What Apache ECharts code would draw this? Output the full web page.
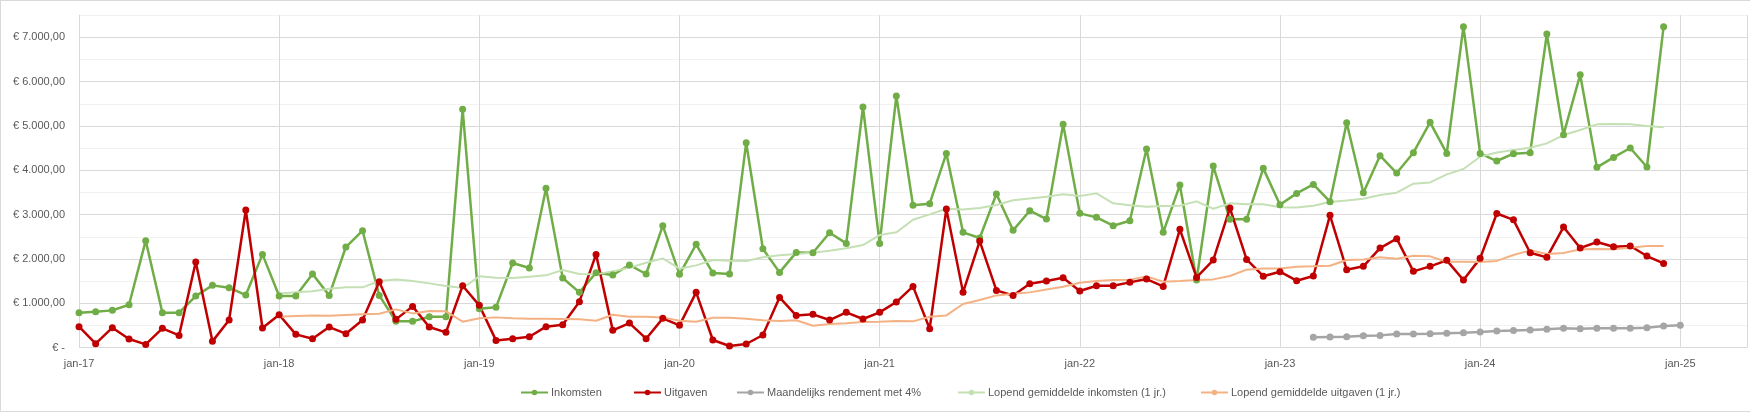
<!DOCTYPE html>
<html>
<head>
<meta charset="utf-8">
<title>Inkomsten en uitgaven</title>
<script src="https://cdn.jsdelivr.net/npm/echarts@6/dist/echarts.min.js"></script>
<style>
  html, body { margin: 0; padding: 0; background: #fff; }
  #wrap { position: relative; width: 1750px; height: 412px; }
  #chart { width: 1750px; height: 412px; }
  #frame {
    position: absolute; left: 0; top: 0; width: 1760px; height: 410px;
    border: 1px solid #d9d9d9; pointer-events: none;
  }
</style>
</head>
<body>
<div id="wrap">
  <div id="chart"></div>
  <div id="frame"></div>
</div>
<script>
// maanden vanaf jan-17 (index 0)
const yearLabels = ['jan-17', 'jan-18', 'jan-19', 'jan-20', 'jan-21', 'jan-22', 'jan-23', 'jan-24', 'jan-25'];

const inkomsten = [
  790, 812, 842, 970, 2414, 790, 790, 1165, 1406, 1353, 1188, 2105,
  1165, 1165, 1662, 1180, 2271, 2639, 1180, 594, 594, 699, 699, 5376,
  880, 910, 1910, 1797, 3594, 1571, 1248, 1692, 1639, 1865, 1662, 2752,
  1654, 2331, 1684, 1662, 4624, 2233, 1699, 2150, 2143, 2594, 2353, 5429,
  2353, 5677, 3211, 3248, 4383, 2602, 2474, 3466, 2647, 3090, 2902, 5038,
  3030, 2940, 2752, 2865, 4481, 2602, 3669, 1526, 4098, 2895, 2895, 4045,
  3226, 3481, 3684, 3293, 5075, 3496, 4331, 3940, 4398, 5083, 4383, 7241,
  4383, 4211, 4376, 4398, 7075, 4805, 6158, 4068, 4293, 4504, 4075, 7241
];

const uitgaven = [
  474, 90, 451, 195, 75, 436, 278, 1932, 143, 624, 3105, 444,
  744, 301, 203, 466, 316, 624, 1489, 639, 932, 466, 346, 1398,
  955, 165, 203, 248, 474, 519, 1038, 2105, 391, 556, 203, 662,
  504, 1248, 173, 38, 83, 286, 1135, 725, 752, 624, 797, 647,
  797, 1030, 1383, 429, 3128, 1248, 2406, 1293, 1177, 1444, 1504, 1579,
  1278, 1398, 1398, 1474, 1549, 1383, 2669, 1586, 1977, 3150, 1992, 1613,
  1714, 1511, 1617, 2985, 1759, 1835, 2248, 2459, 1722, 1835, 1970, 1526,
  2015, 3027, 2884, 2143, 2038, 2722, 2248, 2383, 2278, 2293, 2068, 1902
];

// vanaf mrt-23 (index 74)
const rendementStart = 74;
const rendement = [
  233, 241, 248, 271, 278, 308, 308, 316, 327, 338, 353, 376,
  387, 402, 414, 436, 429, 436, 436, 436, 451, 489, 504
];

// lopend gemiddelde vanaf jan-18 (index 12)
const gemStart = 12;
const gemInkomsten = [
  1225, 1248, 1271, 1331, 1361, 1361, 1504, 1541, 1504, 1451, 1391, 1346,
  1609, 1579, 1571, 1601, 1632, 1752, 1662, 1654, 1722, 1805, 1917, 2015,
  1782, 1857, 1977, 1962, 1955, 2038, 2087, 2112, 2143, 2188, 2241, 2316,
  2541, 2602, 2887, 3008, 3135, 3120, 3150, 3218, 3327, 3365, 3406, 3459,
  3421, 3481, 3256, 3211, 3180, 3195, 3203, 3301, 3135, 3256, 3237, 3237,
  3169, 3162, 3203, 3286, 3323, 3361, 3444, 3496, 3699, 3729, 3910, 4030,
  4308, 4402, 4459, 4511, 4609, 4797, 4910, 5038, 5045, 5038, 5000, 4970
];
const gemUitgaven = [
  699, 714, 729, 722, 737, 752, 767, 865, 774, 827, 820, 586,
  662, 684, 662, 654, 651, 647, 639, 609, 744, 699, 699, 684,
  609, 586, 677, 677, 654, 617, 602, 620, 496, 534, 549, 579,
  586, 602, 594, 699, 729, 985, 1075, 1180, 1215, 1248, 1312, 1376,
  1466, 1504, 1526, 1534, 1609, 1489, 1504, 1526, 1541, 1617, 1760, 1786,
  1786, 1827, 1835, 1850, 1977, 1992, 2038, 2008, 2075, 2060, 1940, 1936,
  1932, 1958, 2090, 2196, 2113, 2135, 2218, 2226, 2218, 2256, 2293, 2293
];

function pairs(values, start) {
  return values.map((v, i) => [start + i, v]);
}

function euro(v) {
  if (v === 0) return '€ -';
  return '€ ' + String(v / 1000) + '.000,00';
}

const font = 'Liberation Sans';
const textColor = '#595959';

const chart = echarts.init(document.getElementById('chart'));

const option = {
  animation: false,
  textStyle: { fontFamily: font },
  tooltip: { trigger: 'axis' },
  grid: { left: 79, top: 15.2, width: 1675, height: 332.5 },
  xAxis: {
    type: 'value',
    min: 0,
    max: 100,
    interval: 12,
    axisLine: { show: false },
    axisTick: { show: false },
    axisLabel: {
      color: textColor, fontSize: 11, fontFamily: font, margin: 11,
      formatter: v => (v % 12 === 0 ? yearLabels[v / 12] : '')
    },
    splitLine: { show: true, lineStyle: { color: '#d9d9d9', width: 1 } }
  },
  yAxis: {
    type: 'value',
    min: 0,
    max: 7500,
    interval: 500,
    axisLine: { show: true, lineStyle: { color: '#d9d9d9', width: 1 } },
    axisTick: { show: false },
    axisLabel: {
      color: textColor, fontSize: 11, fontFamily: font, margin: 14,
      formatter: v => (v % 1000 === 0 ? euro(v) : '')
    },
    splitLine: { show: true, lineStyle: { color: ['#d9d9d9', '#f2f2f2'], width: 1 } }
  },
  legend: [
    { data: ['Inkomsten'], left: 520 },
    { data: ['Uitgaven'], left: 633 },
    { data: ['Maandelijks rendement met 4%'], left: 736 },
    { data: ['Lopend gemiddelde inkomsten (1 jr.)'], left: 957 },
    { data: ['Lopend gemiddelde uitgaven (1 jr.)'], left: 1200 }
  ].map(l => Object.assign(l, {
    top: 387,
    itemWidth: 27,
    itemHeight: 7,
    itemGap: 0,
    padding: 0,
    textStyle: { color: textColor, fontSize: 11, fontFamily: font, padding: [0, 0, 0, -2] }
  })),
  series: [
    {
      name: 'Inkomsten', type: 'line', data: pairs(inkomsten, 0),
      symbol: 'circle', symbolSize: 7,
      lineStyle: { color: '#70ad47', width: 2.5 },
      itemStyle: { color: '#70ad47' }
    },
    {
      name: 'Uitgaven', type: 'line', data: pairs(uitgaven, 0),
      symbol: 'circle', symbolSize: 7,
      lineStyle: { color: '#c00000', width: 2.5 },
      itemStyle: { color: '#c00000' }
    },
    {
      name: 'Maandelijks rendement met 4%', type: 'line', data: pairs(rendement, rendementStart),
      symbol: 'circle', symbolSize: 7,
      lineStyle: { color: '#a5a5a5', width: 2.5 },
      itemStyle: { color: '#a5a5a5' }
    },
    {
      name: 'Lopend gemiddelde inkomsten (1 jr.)', type: 'line', data: pairs(gemInkomsten, gemStart),
      symbol: 'none', showSymbol: false,
      lineStyle: { color: '#c5e0b4', width: 2 },
      itemStyle: { color: '#c5e0b4' }
    },
    {
      name: 'Lopend gemiddelde uitgaven (1 jr.)', type: 'line', data: pairs(gemUitgaven, gemStart),
      symbol: 'none', showSymbol: false,
      lineStyle: { color: '#f4b183', width: 2 },
      itemStyle: { color: '#f4b183' }
    }
  ]
};

chart.setOption(option);
</script>
</body>
</html>
